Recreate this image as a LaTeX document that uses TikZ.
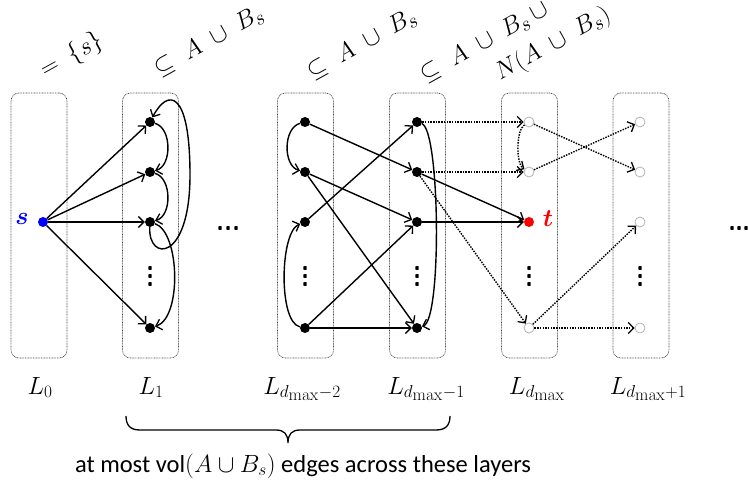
\documentclass[tikz,border=0pt]{standalone}
\usepackage{amsmath}
\usepackage{bm}
\usepackage[no-math]{fontspec}
\setmainfont{Carlito}
\DeclareMathSizes{26}{26}{19}{17}
\DeclareMathSizes{27}{27}{21}{17}
\usetikzlibrary{arrows.meta}
\tikzset{
  bn/.style={circle,fill=black,inner sep=0pt,minimum size=10pt},
  hn/.style={circle,draw=gray!60,fill=white,line width=0.8pt,inner sep=0pt,minimum size=10pt},
  layerbox/.style={draw=black!75,dash pattern=on 0.8pt off 0.8pt,rounded corners=8pt,line width=0.7pt,minimum width=56pt,minimum height=265pt,inner sep=0pt},
  edge/.style={line width=1.4pt,-{Straight Barb[length=5.5pt,width=11pt,line width=1.3pt]}},
  dedge/.style={edge,dash pattern=on 1.5pt off 1.2pt},
  lab/.style={font=\fontsize{26}{30}\selectfont,anchor=base,inner sep=0pt},
  toplab/.style={font=\fontsize{27}{32}\selectfont,anchor=base west,rotate=29,inner sep=0pt},
  smalldot/.style={rectangle,rounded corners=0.6pt,fill=black,inner sep=0pt,minimum width=3.4pt,minimum height=3.8pt},
}
\begin{document}
\begin{tikzpicture}[x=1pt,y=-1pt]
\useasboundingbox (0,0) rectangle (748,484);
% layer boxes
\node[layerbox] (B0) at (39,225.5) {};
\node[layerbox] (B1) at (150.5,225.5) {};
\node[layerbox] (B2) at (305.5,225.5) {};
\node[layerbox] (B3) at (417.5,225.5) {};
\node[layerbox] (B4) at (529.5,225.5) {};
\node[layerbox] (B5) at (641,225.5) {};
% top labels
\node[toplab] (T0) at (45,78) {${=}\;\;\{s\}$};
\node[toplab] (T1) at (159,77) {$\subseteq\;A\;\cup\;B_s$};
\node[toplab] (T2) at (312,80) {$\subseteq\;A\;\cup\;B_s$};
\node[toplab] (T3a) at (425,83) {$\subseteq\;A\;\cup\;B_s\,\cup$};
\node[toplab] (T3b) at (500,81) {$N(A\;\cup\;B_s)$};
% nodes
\node[circle,fill=blue,inner sep=0pt,minimum size=10pt] (s) at (43,222) {};
\node[text=blue,font=\fontsize{26}{30}\selectfont] (slab) at (22,219) {$\bm{s}$};
\foreach \y/\n in {122/1,172/2,222/3,328/4}{
  \node[bn] (a\n) at (150,\y) {};
  \node[bn] (b\n) at (305,\y) {};
  \node[bn] (c\n) at (417,\y) {};
  \node[hn] (e\n) at (640,\y) {};
}
\node[hn] (d1) at (529,122) {};
\node[hn] (d2) at (529,172) {};
\node[circle,fill=red,inner sep=0pt,minimum size=10pt] (t) at (529,222) {};
\node[text=red,font=\fontsize{26}{30}\selectfont] (tlab) at (548,219) {$\bm{t}$};
\node[hn] (d4) at (529,328) {};
% vertical dots
\foreach \x/\n in {150/1,305/2,417/3,529/4,640/5}{
  \node[smalldot] (v\n a) at (\x,268) {};
  \node[smalldot] (v\n b) at (\x,276) {};
  \node[smalldot] (v\n c) at (\x,284) {};
}
% horizontal ellipses
\foreach \x/\n in {220/1,228/2,236/3,732/4,739/5,746/6}{
  \node[smalldot] (h\n) at (\x,228) {};
}
% edges L0 -> L1
\foreach \n in {1,2,3,4}{ \draw[edge] (s) -- (a\n); }
% inside L1
\draw[edge] (a1) .. controls (172,128) and (172,166) .. (a2);
\draw[edge] (a2) .. controls (172,178) and (172,216) .. (a3);
\draw[edge] (a3) .. controls (148,262) and (190,262) .. (190,175) .. controls (190,90) and (168,88) .. (a1);
\draw[edge] (a3) .. controls (180,232) and (182,318) .. (a4);
% inside L_{dmax-2}
\draw[edge] (b1) .. controls (283,128) and (283,166) .. (b2);
\draw[edge] (b4) .. controls (278,322) and (280,232) .. (b3);
% L_{dmax-2} -> L_{dmax-1}
\draw[edge] (b1) -- (c2);
\draw[edge] (b2) -- (c3);
\draw[edge] (b2) -- (c4);
\draw[edge] (b3) -- (c1);
\draw[edge] (b4) -- (c3);
\draw[edge] (b4) -- (c4);
% inside L_{dmax-1}
\draw[edge] (c1) .. controls (440,130) and (442,320) .. (c4);
% to t
\draw[edge] (c2) -- (t);
\draw[edge] (c3) -- (t);
% dotted
\draw[dedge] (c1) -- (d1);
\draw[dedge] (c2) -- (d2);
\draw[dedge] (c2) -- (d4);
\draw[dedge] (d1) .. controls (516,130) and (516,164) .. (d2);
\draw[dedge] (d1) -- (e2);
\draw[dedge] (d2) -- (e1);
\draw[dedge] (d4) -- (e3);
\draw[dedge] (d4) -- (e4);
% bottom labels
\node[lab] (L0) at (40,394) {$L_0$};
\node[lab] (L1) at (151,394) {$L_1$};
\node[lab] (L2) at (302,394) {$L_{d_{\max}-2}$};
\node[lab] (L3) at (426,394) {$L_{d_{\max}-1}$};
\node[lab] (L4) at (537,394) {$L_{d_{\max}}$};
\node[lab] (L5) at (648,394) {$L_{d_{\max}+1}$};
% brace
\coordinate (brL) at (126,416);
\coordinate (brR) at (450,416);
\coordinate (brTip) at (288,443);
\draw[line width=1.3pt] (brL) .. controls (126,425) and (130,430) .. (140,430) -- (276,430)
   .. controls (284,430) and (288,434) .. (brTip)
   .. controls (288,434) and (292,430) .. (300,430) -- (436,430)
   .. controls (446,430) and (450,425) .. (brR);
\node[font=\fontsize{24.5}{28}\selectfont,anchor=base] (note) at (303,472) {at most vol$(A\cup B_s)$ edges across these layers};
\end{tikzpicture}
\end{document}
